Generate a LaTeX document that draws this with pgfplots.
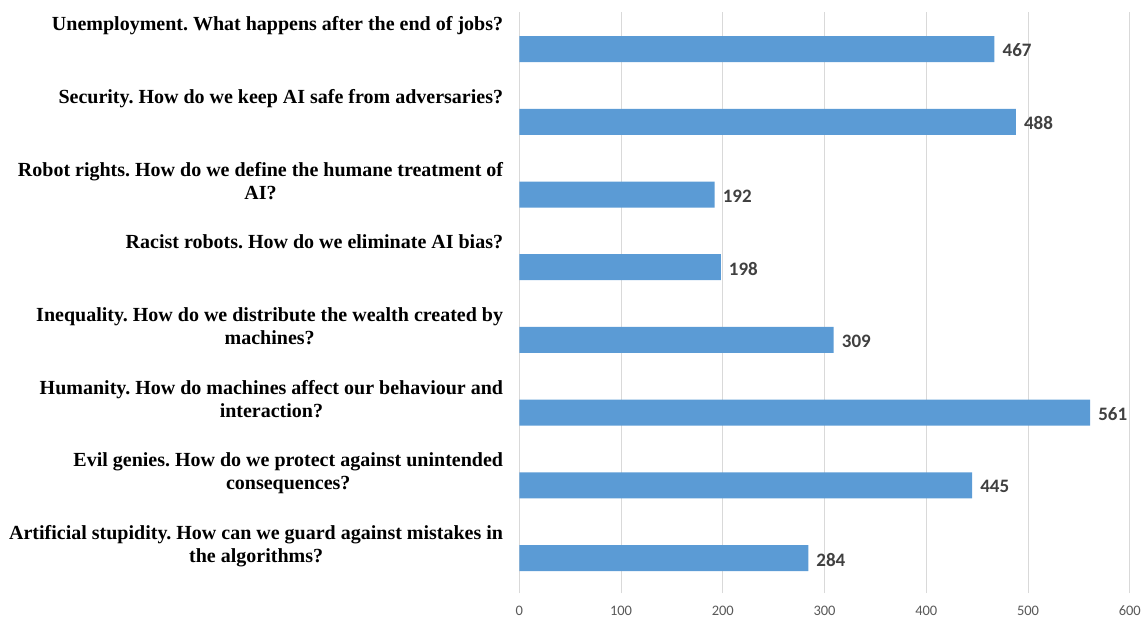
\documentclass[border=0pt]{standalone}
\usepackage{fontspec}
\setmainfont{Liberation Serif}
\newfontfamily\carlito{Carlito}
\usepackage{pgfplots}
\pgfplotsset{compat=1.18}
\definecolor{barblue}{HTML}{5B9BD5}
\definecolor{gridgray}{HTML}{D9D9D9}
\definecolor{ticktext}{HTML}{595959}
\definecolor{valtext}{HTML}{404040}
\frenchspacing
\begin{document}
\begin{tikzpicture}
\path[use as bounding box] (0,0) rectangle (1145pt,618pt);
\begin{axis}[
  at={(519.3pt,25pt)}, anchor=south west,
  scale only axis, width=610.5pt, height=581pt,
  xbar, bar width=26pt,
  xmin=0, xmax=600, ymin=-0.48, ymax=7.51,
  xtick={0,100,...,600},
  ytick={0,...,7},
  yticklabels={
    {Artificial stupidity. How can we guard against mistakes in\\the algorithms?},
    {Evil genies. How do we protect against unintended\\consequences?},
    {Humanity. How do machines affect our behaviour and\\interaction?},
    {Inequality. How do we distribute the wealth created by\\machines?},
    {Racist robots. How do we eliminate AI bias?},
    {Robot rights. How do we define the humane treatment of\\AI?},
    {Security. How do we keep AI safe from adversaries?},
    {Unemployment. What happens after the end of jobs?}},
  xmajorgrids, major grid style={gridgray, line width=1pt},
  axis line style={draw=none},
  major tick length=0pt,
  /pgf/number format/assume math mode=true,
  xticklabel style={font=\carlito\fontsize{14.5}{16}\selectfont, text=ticktext, inner sep=0pt, anchor=north, yshift=-13pt},
  yticklabel style={font=\bfseries\fontsize{20}{23}\selectfont, align=center, anchor=north east, inner sep=0pt, xshift=-16pt, yshift=32.5pt},
  nodes near coords,
  every node near coord/.append style={font=\carlito\bfseries\fontsize{19}{22}\selectfont, text=valtext, anchor=west, inner sep=0pt, xshift=8pt, yshift=-1.5pt},
]
\addplot[fill=barblue, draw=none] coordinates {(284,0) (445,1) (561,2) (309,3) (198,4) (192,5) (488,6) (467,7)};
\end{axis}
\end{tikzpicture}
\end{document}
